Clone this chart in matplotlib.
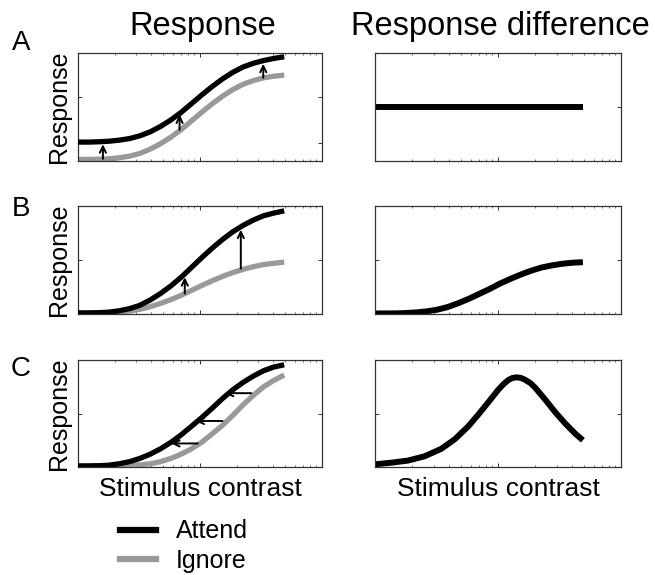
import matplotlib
matplotlib.use('Agg')
import matplotlib.pyplot as plt
from matplotlib.lines import Line2D

plt.rcParams['font.family'] = ['Liberation Sans', 'DejaVu Sans']

# ---------------- data ----------------
contrast = [1.0, 1.21, 1.48, 1.79, 2.18, 2.65, 3.21, 3.91, 4.75, 5.77, 7.0,
            8.5, 10.3, 12.6, 15.3, 18.5, 22.5, 27.4, 33.2, 40.4, 49.0]

# Panel A: baseline shift
a_attend = [0.175, 0.175, 0.178, 0.183, 0.193, 0.208, 0.233, 0.27, 0.32, 0.38, 0.45,
            0.53, 0.61, 0.69, 0.76, 0.82, 0.87, 0.905, 0.93, 0.95, 0.965]
a_ignore = [0.015, 0.015, 0.017, 0.02, 0.03, 0.045, 0.07, 0.11, 0.16, 0.22, 0.29,
            0.37, 0.45, 0.53, 0.60, 0.66, 0.71, 0.745, 0.77, 0.785, 0.795]
a_diff = [0.5, 0.5, 0.5, 0.5, 0.5, 0.5, 0.5, 0.5, 0.5, 0.5, 0.5,
          0.5, 0.5, 0.5, 0.5, 0.5, 0.5, 0.5, 0.5, 0.5, 0.5]

# Panel B: response gain
b_attend = [0.01, 0.01, 0.012, 0.017, 0.03, 0.05, 0.08, 0.13, 0.19, 0.26, 0.34,
            0.43, 0.52, 0.61, 0.69, 0.76, 0.82, 0.87, 0.91, 0.935, 0.955]
b_ignore = [0.01, 0.01, 0.011, 0.013, 0.019, 0.028, 0.043, 0.068, 0.098, 0.133, 0.173,
            0.218, 0.263, 0.308, 0.348, 0.383, 0.413, 0.438, 0.458, 0.47, 0.48]
b_diff = [0.005, 0.005, 0.006, 0.009, 0.015, 0.025, 0.04, 0.065, 0.1, 0.14, 0.185,
          0.23, 0.28, 0.325, 0.365, 0.40, 0.43, 0.45, 0.465, 0.475, 0.48]

# Panel C: contrast gain
c_attend = [0.01, 0.01, 0.012, 0.017, 0.03, 0.05, 0.08, 0.12, 0.17, 0.23, 0.30,
            0.38, 0.46, 0.55, 0.64, 0.72, 0.79, 0.85, 0.90, 0.935, 0.955]
c_ignore = [0.01, 0.01, 0.01, 0.01, 0.012, 0.015, 0.02, 0.03, 0.05, 0.08, 0.12,
            0.17, 0.23, 0.31, 0.39, 0.48, 0.58, 0.67, 0.75, 0.81, 0.86]
c_diff_contrast = [1.0, 1.35, 1.85, 2.53, 3.46, 4.46, 5.73, 6.92, 8.34, 10.1, 11.1,
                   12.2, 13.1, 14.2, 15.4, 16.6, 18.3, 20.1, 24.2, 29.3, 35.3, 42.6, 49.0]
c_diff = [0.025, 0.04, 0.06, 0.10, 0.17, 0.26, 0.38, 0.49, 0.605, 0.725, 0.775,
          0.815, 0.832, 0.838, 0.832, 0.815, 0.785, 0.74, 0.63, 0.51, 0.405, 0.31, 0.25]

# arrows: (contrast, from-response, to-response)
a_arrow_x = [1.6, 6.8, 33.0]
a_arrow_from = [0.02, 0.29, 0.77]
a_arrow_to = [0.155, 0.43, 0.90]
b_arrow_x = [7.5, 21.6]
b_arrow_from = [0.19, 0.42]
b_arrow_to = [0.34, 0.78]
# horizontal arrows in C: (response level, from-contrast, to-contrast)
c_arrow_y = [0.22, 0.43, 0.69]
c_arrow_from = [9.6, 15.3, 26.3]
c_arrow_to = [5.8, 9.2, 16.0]

row_letters = ['A', 'B', 'C']
col_titles = ['Response', 'Response difference']
legend_labels = ['Attend', 'Ignore']

BLACK = '#000000'
GRAY = '#999999'
LW = 3.8

fig = plt.figure(figsize=(6.55, 5.75), dpi=100)
W, H = 655.0, 575.0


def add_ax(x0, y0, x1, y1):
    return fig.add_axes([x0 / W, 1 - y1 / H, (x1 - x0) / W, (y1 - y0) / H])


left_x = (78, 322)
right_x = (375, 621)
rows_y = [(53, 161), (206, 314), (360, 467)]

axes = []
for (y0, y1) in rows_y:
    axl = add_ax(left_x[0], y0, left_x[1], y1)
    axr = add_ax(right_x[0], y0, right_x[1], y1)
    axes.append((axl, axr))

for i, (axl, axr) in enumerate(axes):
    for ax in (axl, axr):
        ax.set_xscale('log')
        ax.set_xlim(1, 100)
        ax.set_ylim(0, 1)
        ax.set_xticks([10])
        ax.set_xticklabels([])
        ax.tick_params(which='both', direction='in', top=True, right=True,
                       labelbottom=False, labelleft=False, color='#333333')
        ax.tick_params(which='major', length=3, width=0.7)
        ax.tick_params(which='minor', length=1.6, width=0.5)
        for s in ax.spines.values():
            s.set_linewidth(0.9)
            s.set_color('#333333')
    if i == 0:
        axl.set_yticks([0.17, 0.59])
    else:
        axl.set_yticks([0.5])
    axr.set_yticks([0.5])

arrow_kw = dict(arrowstyle='->,head_length=0.45,head_width=0.22', lw=1.4,
                color='black', shrinkA=0, shrinkB=0, mutation_scale=10)

# Row A
axl, axr = axes[0]
axl.plot(contrast, a_ignore, color=GRAY, lw=LW, solid_capstyle='butt', zorder=2)
axl.plot(contrast, a_attend, color=BLACK, lw=LW, solid_capstyle='butt', zorder=3)
for x, yf, yt in zip(a_arrow_x, a_arrow_from, a_arrow_to):
    axl.annotate('', xy=(x, yt), xytext=(x, yf), arrowprops=arrow_kw, zorder=4)
axr.plot(contrast, a_diff, color=BLACK, lw=4.3, solid_capstyle='butt')

# Row B
axl, axr = axes[1]
axl.plot(contrast, b_ignore, color=GRAY, lw=LW, solid_capstyle='butt', zorder=2)
axl.plot(contrast, b_attend, color=BLACK, lw=LW, solid_capstyle='butt', zorder=3)
for x, yf, yt in zip(b_arrow_x, b_arrow_from, b_arrow_to):
    axl.annotate('', xy=(x, yt), xytext=(x, yf), arrowprops=arrow_kw, zorder=4)
axr.plot(contrast, b_diff, color=BLACK, lw=4.3, solid_capstyle='butt')

# Row C
axl, axr = axes[2]
axl.plot(contrast, c_ignore, color=GRAY, lw=LW, solid_capstyle='butt', zorder=2)
axl.plot(contrast, c_attend, color=BLACK, lw=LW, solid_capstyle='butt', zorder=3)
for y, xf, xt in zip(c_arrow_y, c_arrow_from, c_arrow_to):
    axl.annotate('', xy=(xt, y), xytext=(xf, y), arrowprops=arrow_kw, zorder=4)
axr.plot(c_diff_contrast, c_diff, color=BLACK, lw=4.3, solid_capstyle='butt',
         solid_joinstyle='round')

# y labels
for axl, _ in axes:
    axl.set_ylabel('Response', fontsize=18, labelpad=5)

# x labels
axes[2][0].set_xlabel('Stimulus contrast', fontsize=19, labelpad=7)
axes[2][1].set_xlabel('Stimulus contrast', fontsize=19, labelpad=7)

# column titles
fig.text(203 / W, 1 - 27 / H, col_titles[0], fontsize=23.5, ha='center', va='center')
fig.text(500 / W, 1 - 27 / H, col_titles[1], fontsize=23.5, ha='center', va='center')

# row letters
for letter, yy in zip(row_letters, [43, 209, 369]):
    fig.text(21 / W, 1 - yy / H, letter, fontsize=20, ha='center', va='center')

# legend
fig.legend([Line2D([], [], color=BLACK, lw=4.5), Line2D([], [], color=GRAY, lw=4.5)],
           legend_labels, loc='center left', bbox_to_anchor=(120 / W, 1 - 546 / H),
           frameon=False, fontsize=18, handlelength=1.45, handletextpad=0.8,
           labelspacing=0.22, borderaxespad=0, borderpad=0)

fig.savefig('out.png', dpi=100)
